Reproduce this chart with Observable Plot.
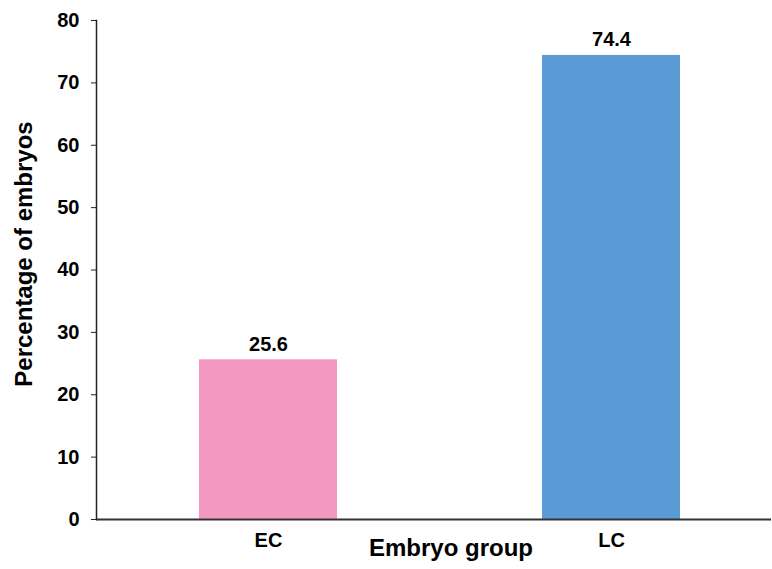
<!DOCTYPE html>
<html>
<head>
<meta charset="utf-8">
<script src="https://cdn.jsdelivr.net/npm/d3@7"></script>
<script src="https://cdn.jsdelivr.net/npm/@observablehq/plot@0.6"></script>
<style>
  html, body { margin: 0; padding: 0; background: #fff; }
  #chart svg { font-family: "Liberation Sans", Arial, sans-serif; }
</style>
</head>
<body>
<div id="chart"></div>
<script>
// Embryo groups and their share of embryos (%)
const groups = ["EC", "LC"];
const percentages = [25.6, 74.4];
const barColors = ["#f398c1", "#5b9bd5"];
const yTicks = [0, 10, 20, 30, 40, 50, 60, 70, 80];

const data = groups.map((g, i) => ({group: g, pct: percentages[i], color: barColors[i]}));

const chart = Plot.plot({
  width: 772,
  height: 569,
  marginTop: 20,
  marginLeft: 96,
  marginRight: 1,
  marginBottom: 50,
  style: {fontFamily: "'Liberation Sans', Arial, sans-serif", color: "#000", background: "#fff"},
  x: {domain: groups, range: [96, 782], paddingInner: 0.598, paddingOuter: 0.299},
  y: {domain: [0, 80]},
  marks: [
    Plot.barY(data, {x: "group", y: "pct", fill: "color"}),
    Plot.text(data, {
      x: "group", y: "pct", text: d => d.pct.toFixed(1),
      lineAnchor: "bottom", dy: -9, fontSize: 20, fontWeight: "bold", fill: "#000"
    }),
    Plot.ruleY([0], {stroke: "#333", strokeWidth: 2}),
    // left axis line
    Plot.frame({anchor: "left", stroke: "#222", strokeWidth: 1.5}),
    Plot.axisY({
      ticks: yTicks, tickSize: 5, tickPadding: 12, tickFormat: d => String(d),
      fontSize: 20, fontWeight: "bold", stroke: "#222", label: null
    }),
    Plot.axisX({
      tickSize: 0, tickPadding: 13, fontSize: 20, fontWeight: "bold", label: null
    }),
    Plot.text(["Embryo group"], {
      frameAnchor: "bottom", dx: 17, dy: 36, fontSize: 24, fontWeight: "bold", fill: "#000"
    }),
    Plot.text(["Percentage of embryos"], {
      frameAnchor: "left", textAnchor: "middle", dx: -72, dy: -16, rotate: -90,
      fontSize: 24, fontWeight: "bold", fill: "#000"
    })
  ]
});

document.getElementById("chart").appendChild(chart);
</script>
</body>
</html>
